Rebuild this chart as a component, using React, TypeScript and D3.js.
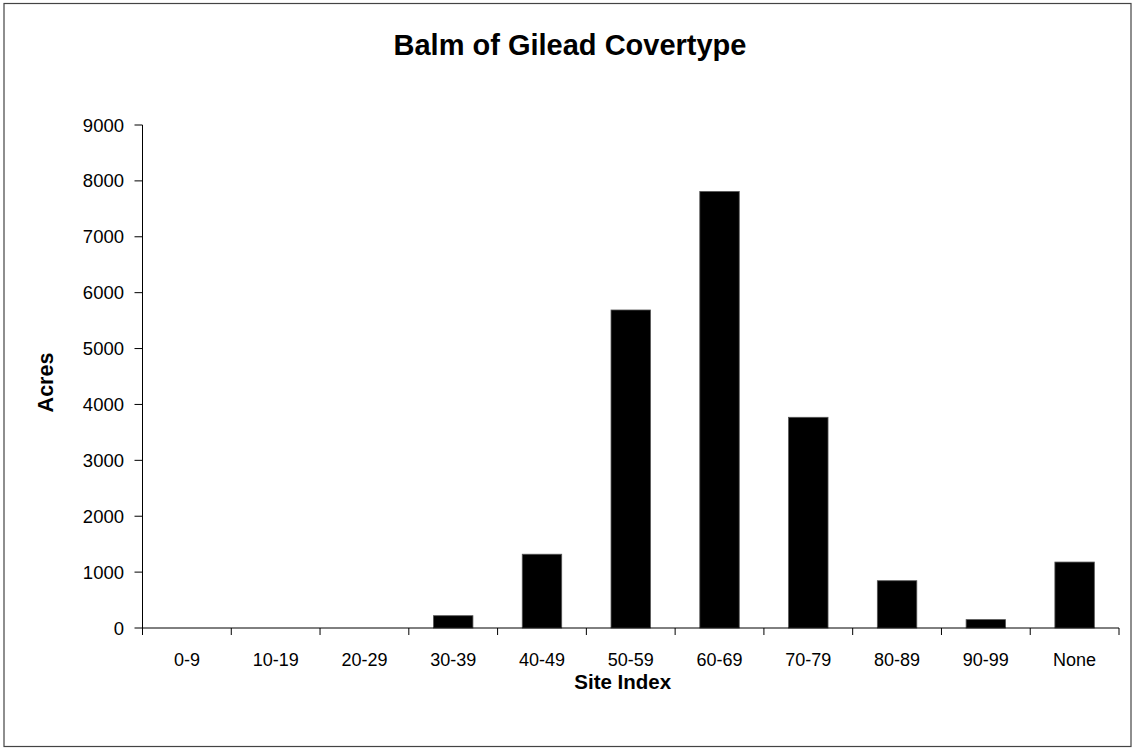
import React from "react";
import * as d3 from "d3";

const categories = ["0-9", "10-19", "20-29", "30-39", "40-49", "50-59", "60-69", "70-79", "80-89", "90-99", "None"];
const acres = [0, 0, 0, 220, 1320, 5690, 7810, 3770, 846, 150, 1180];
const yTicks = [0, 1000, 2000, 3000, 4000, 5000, 6000, 7000, 8000, 9000];

const W = 1134;
const H = 748;
const plot = { left: 142.5, right: 1119, top: 125, bottom: 628 };
const font = "Arial, 'Liberation Sans', sans-serif";

export default function App() {
  const x = d3
    .scaleBand<string>()
    .domain(categories)
    .range([plot.left, plot.right])
    .paddingInner(0)
    .paddingOuter(0);
  const y = d3.scaleLinear().domain([0, 9000]).range([plot.bottom, plot.top]);
  const barW = x.bandwidth() / 2.25;

  return (
    <svg
      width={W}
      height={H}
      style={{ position: "absolute", left: 0, top: 0, background: "#fff" }}
      fontFamily={font}
    >
      <rect x={0} y={0} width={W} height={H} fill="#fff" />
      <rect x={4} y={3.5} width={1127} height={743} fill="none" stroke="#444" strokeWidth={1.2} />

      <text x={570} y={55} textAnchor="middle" fontSize={29} fontWeight="bold" fill="#000">
        Balm of Gilead Covertype
      </text>

      {/* bars */}
      {categories.map((c, i) =>
        acres[i] > 0 ? (
          <rect
            key={c}
            x={(x(c) as number) + (x.bandwidth() - barW) / 2}
            y={y(acres[i])}
            width={barW}
            height={y(0) - y(acres[i])}
            fill="#000"
            stroke="#555"
            strokeWidth={0.8}
          />
        ) : null
      )}

      {/* y axis */}
      <line x1={plot.left} x2={plot.left} y1={plot.top} y2={plot.bottom} stroke="#000" strokeWidth={1} />
      {yTicks.map((t) => (
        <g key={t}>
          <line x1={plot.left - 8} x2={plot.left} y1={y(t)} y2={y(t)} stroke="#000" strokeWidth={1} />
          <text x={plot.left - 18.5} y={y(t) + 6.5} textAnchor="end" fontSize={18.5} fill="#000">
            {t}
          </text>
        </g>
      ))}

      {/* x axis */}
      <line x1={plot.left} x2={plot.right} y1={plot.bottom} y2={plot.bottom} stroke="#000" strokeWidth={1} />
      {[...categories.map((c) => x(c) as number), plot.right].map((px, i) => (
        <line key={i} x1={px} x2={px} y1={plot.bottom} y2={plot.bottom + 7} stroke="#000" strokeWidth={1} />
      ))}
      {categories.map((c) => (
        <text
          key={c}
          x={(x(c) as number) + x.bandwidth() / 2}
          y={plot.bottom + 38}
          textAnchor="middle"
          fontSize={18}
          fill="#000"
        >
          {c}
        </text>
      ))}

      <text x={(plot.left + plot.right) / 2 - 8} y={689} textAnchor="middle" fontSize={20.5} fontWeight="bold" fill="#000">
        Site Index
      </text>
      <text
        transform={`translate(53, ${(plot.top + plot.bottom) / 2 + 6}) rotate(-90)`}
        textAnchor="middle"
        fontSize={21.5}
        fontWeight="bold"
        fill="#000"
      >
        Acres
      </text>
    </svg>
  );
}
